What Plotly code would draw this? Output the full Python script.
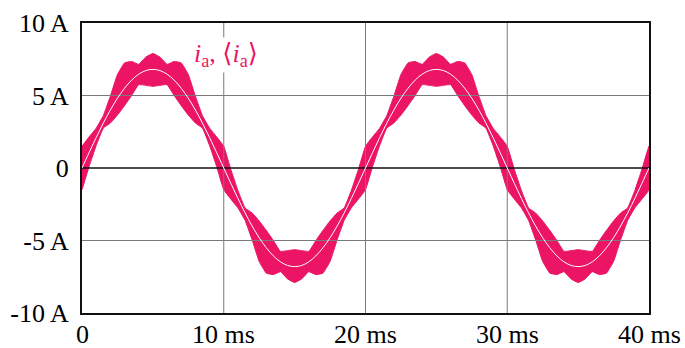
import plotly.graph_objects as go

# time samples (ms)
t_ms = [0, 0.5, 1, 1.5, 2, 2.5, 3, 3.5, 4, 4.5, 5, 5.5, 6, 6.5, 7, 7.5, 8, 8.5, 9, 9.5,
        10, 10.5, 11, 11.5, 12, 12.5, 13, 13.5, 14, 14.5, 15, 15.5, 16, 16.5, 17, 17.5, 18, 18.5, 19, 19.5,
        20, 20.5, 21, 21.5, 22, 22.5, 23, 23.5, 24, 24.5, 25, 25.5, 26, 26.5, 27, 27.5, 28, 28.5, 29, 29.5,
        30, 30.5, 31, 31.5, 32, 32.5, 33, 33.5, 34, 34.5, 35, 35.5, 36, 36.5, 37, 37.5, 38, 38.5, 39, 39.5,
        40]

# upper envelope of i_a (A)
i_upper = [1.5, 2.15, 2.75, 3.6, 4.95, 6.45, 7.25, 7.35, 7.15, 7.65, 7.9, 7.65, 7.15, 7.35, 7.25, 6.45, 4.95, 3.6, 2.75, 2.15,
           1.5, -0.1, -1.55, -2.75, -3.1, -3.65, -4.3, -5.0, -5.75, -5.7, -5.63, -5.7, -5.75, -5.0, -4.3, -3.65, -3.1, -2.75, -1.55, -0.1,
           1.5, 2.15, 2.75, 3.6, 4.95, 6.45, 7.25, 7.35, 7.15, 7.65, 7.9, 7.65, 7.15, 7.35, 7.25, 6.45, 4.95, 3.6, 2.75, 2.15,
           1.5, -0.1, -1.55, -2.75, -3.1, -3.65, -4.3, -5.0, -5.75, -5.7, -5.63, -5.7, -5.75, -5.0, -4.3, -3.65, -3.1, -2.75, -1.55, -0.1,
           1.5]

# lower envelope of i_a (A)
i_lower = [-1.5, 0.1, 1.55, 2.75, 3.1, 3.65, 4.3, 5.0, 5.75, 5.7, 5.63, 5.7, 5.75, 5.0, 4.3, 3.65, 3.1, 2.75, 1.55, 0.1,
           -1.5, -2.15, -2.75, -3.6, -4.95, -6.45, -7.25, -7.35, -7.15, -7.65, -7.9, -7.65, -7.15, -7.35, -7.25, -6.45, -4.95, -3.6, -2.75, -2.15,
           -1.5, 0.1, 1.55, 2.75, 3.1, 3.65, 4.3, 5.0, 5.75, 5.7, 5.63, 5.7, 5.75, 5.0, 4.3, 3.65, 3.1, 2.75, 1.55, 0.1,
           -1.5, -2.15, -2.75, -3.6, -4.95, -6.45, -7.25, -7.35, -7.15, -7.65, -7.9, -7.65, -7.15, -7.35, -7.25, -6.45, -4.95, -3.6, -2.75, -2.15,
           -1.5]

# average <i_a> (A)
i_avg = [0, 1.06, 2.10, 3.09, 4.00, 4.81, 5.50, 6.06, 6.47, 6.72, 6.80, 6.72, 6.47, 6.06, 5.50, 4.81, 4.00, 3.09, 2.10, 1.06,
         0, -1.06, -2.10, -3.09, -4.00, -4.81, -5.50, -6.06, -6.47, -6.72, -6.80, -6.72, -6.47, -6.06, -5.50, -4.81, -4.00, -3.09, -2.10, -1.06,
         0, 1.06, 2.10, 3.09, 4.00, 4.81, 5.50, 6.06, 6.47, 6.72, 6.80, 6.72, 6.47, 6.06, 5.50, 4.81, 4.00, 3.09, 2.10, 1.06,
         0, -1.06, -2.10, -3.09, -4.00, -4.81, -5.50, -6.06, -6.47, -6.72, -6.80, -6.72, -6.47, -6.06, -5.50, -4.81, -4.00, -3.09, -2.10, -1.06,
         0]

x_ticks = [0, 10, 20, 30, 40]
x_ticktext = ["0", "10 ms", "20 ms", "30 ms", "40 ms"]
y_ticks = [-10, -5, 0, 5, 10]
y_ticktext = ["-10 A", "-5 A", "0", "5 A", "10 A"]
x_grid = [10, 20, 30]
y_grid = [-5, 5]

MAG = "#EC1464"
FONT = "Liberation Serif, Times New Roman, DejaVu Serif, serif"

fig = go.Figure()

# ripple band
fig.add_trace(go.Scatter(
    x=t_ms + t_ms[::-1], y=i_upper + i_lower[::-1],
    fill="toself", fillcolor=MAG, mode="lines",
    line=dict(color=MAG, width=1, shape="spline", smoothing=0.3),
    hoverinfo="skip", showlegend=False))

# grid lines (drawn above the band)
for gx in x_grid:
    fig.add_trace(go.Scatter(x=[gx, gx], y=[y_ticks[0], y_ticks[-1]], mode="lines",
                             line=dict(color="#7a7a7a", width=1), hoverinfo="skip", showlegend=False))
for gy in y_grid:
    fig.add_trace(go.Scatter(x=[x_ticks[0], x_ticks[-1]], y=[gy, gy], mode="lines",
                             line=dict(color="#7a7a7a", width=1), hoverinfo="skip", showlegend=False))
fig.add_trace(go.Scatter(x=[x_ticks[0], x_ticks[-1]], y=[0, 0], mode="lines",
                         line=dict(color="#111111", width=1.5), hoverinfo="skip", showlegend=False))

# average line
fig.add_trace(go.Scatter(x=t_ms, y=i_avg, mode="lines",
                         line=dict(color="white", width=1, shape="spline"),
                         hoverinfo="skip", showlegend=False))

fig.add_annotation(x=10.15, y=7.8, xref="x", yref="y",
                   text="<i>i</i><sub>a</sub>, ⟨<i>i</i><sub>a</sub>⟩",
                   showarrow=False, bgcolor="white",
                   font=dict(family=FONT, size=26, color=MAG))

# x tick labels as annotations (placed just under the axis)
for xv, xt in zip(x_ticks, x_ticktext):
    fig.add_annotation(x=xv, y=0, xref="x", yref="paper", text=xt, showarrow=False,
                       xanchor="center", yanchor="top", yshift=-5,
                       font=dict(family=FONT, size=26, color="black"))

fig.update_xaxes(range=[0, 40], tickvals=x_ticks, showticklabels=False, showgrid=False,
                 zeroline=False, showline=True, linecolor="#111111", linewidth=2, mirror=True,
                 ticks="", automargin=False)
fig.update_yaxes(range=[-10, 10], tickvals=y_ticks, ticktext=y_ticktext, showgrid=False,
                 zeroline=False, showline=True, linecolor="#111111", linewidth=2, mirror=True,
                 ticks="", ticklabelstandoff=6, automargin=False,
                 tickfont=dict(family=FONT, size=26, color="black"))

fig.update_layout(width=685, height=348, margin=dict(l=82, r=36, t=23, b=35),
                  plot_bgcolor="white", paper_bgcolor="white")

fig.write_html("out.html")
